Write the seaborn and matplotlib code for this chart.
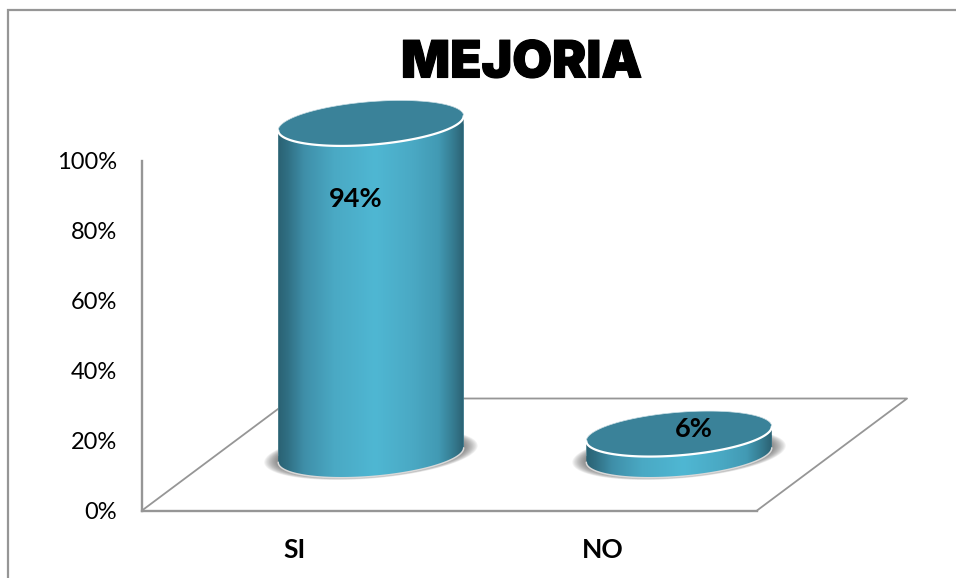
import numpy as np
import matplotlib
matplotlib.use("Agg")
import matplotlib.pyplot as plt
from matplotlib.colors import LinearSegmentedColormap
from matplotlib.patches import PathPatch, Polygon, Rectangle
from matplotlib.path import Path
from matplotlib.ticker import PercentFormatter
from matplotlib.transforms import IdentityTransform
import matplotlib.patheffects as pe
import seaborn as sns

CATEGORIES = ["SI", "NO"]
VALUES = [94, 6]
VALUE_LABELS = ["94%", "6%"]
Y_TICKS = [0, 20, 40, 60, 80, 100]

W, H = 956, 578
GRID = "#969696"
CAP = "#3a8299"

sns.set_theme(style="white")
plt.rcParams["font.family"] = ["Lato", "DejaVu Sans"]

fig = plt.figure(figsize=(W / 100, H / 100), dpi=100, facecolor="white")

# outer chart frame
fig.add_artist(Rectangle((8 / W, -0.05), 1.05, (H - 10) / H + 0.05, transform=fig.transFigure,
                         fill=False, edgecolor=GRID, linewidth=1.6))

XLIM = (-0.743, 1.253)

# value axis and floor
ax = fig.add_axes([142 / W, (H - 510.5) / H, 615 / W, 350 / H], facecolor="none")
ax.set_xlim(*XLIM)
ax.set_ylim(0, 100)
ax.set_yticks(Y_TICKS)
ax.yaxis.set_major_formatter(PercentFormatter(100, decimals=0))
ax.tick_params(axis="y", length=0, pad=18, labelsize=17, labelcolor="black")
ax.set_xticks([i - 0.247 for i in range(len(CATEGORIES))], CATEGORIES)
ax.tick_params(axis="x", length=0, pad=20)
for lab in ax.get_xticklabels():
    lab.set_fontsize(19)
    lab.set_fontweight("bold")
    lab.set_color("black")
sns.despine(ax=ax)
for s in ("left", "bottom"):
    ax.spines[s].set_color(GRID)
    ax.spines[s].set_linewidth(1.7)
ax.plot([1, 1.244, 0.244, 0], [0, 0.32, 0.32, 0], transform=ax.transAxes,
        color=GRID, lw=1.3, clip_on=False)

# cylinders
axb = fig.add_axes([142 / W, (H - 455) / H, 615 / W, 353 / H], facecolor="none")
sns.barplot(x=CATEGORIES, y=VALUES, ax=axb, width=0.604, color="#4badc8", saturation=1)
axb.set_xlim(*XLIM)
axb.set_ylim(0, 100)
axb.axis("off")

cmap = LinearSegmentedColormap.from_list("cyl", [
    (0.00, "#2a6273"), (0.05, "#306f83"), (0.14, "#3f8fa9"), (0.30, "#4aa9c4"),
    (0.52, "#4fb7d3"), (0.72, "#4aa9c4"), (0.86, "#429ab4"), (0.94, "#357b90"), (1.00, "#2b5f70"),
])
grad = np.linspace(0, 1, 256)[None, :]

PHI = np.radians(4.7)
B = 21.5


def arc(cx, cy, a, b, t):
    return np.column_stack([
        cx + a * np.cos(t) * np.cos(PHI) - b * np.sin(t) * np.sin(PHI),
        cy + a * np.cos(t) * np.sin(PHI) + b * np.sin(t) * np.cos(PHI),
    ])


ident = IdentityTransform()
tr = np.arctan2(-B * np.sin(PHI), 93 * np.cos(PHI))
lower = np.linspace(tr - np.pi, tr, 80)
upper = np.linspace(tr, tr + np.pi, 80)
whole = np.linspace(0, 2 * np.pi, 160)

for i, (bar, val) in enumerate(zip(axb.patches, VALUES)):
    x0, w = bar.get_x(), bar.get_width()
    cx, base = axb.transData.transform((x0 + w / 2, 0))
    _, top = axb.transData.transform((x0, val))
    a = (axb.transData.transform((x0 + w, 0))[0] - axb.transData.transform((x0, 0))[0]) / 2

    # soft shadow on the floor
    for t in np.linspace(1, 0, 14):
        axb.add_patch(Polygon(arc(cx, base + 1, a + 14 * t, B + 3 * t, whole), closed=True,
                              transform=ident, facecolor="#555555", alpha=0.075,
                              edgecolor="none", zorder=1, clip_on=False))

    # body: lower arc of the base, upper arc of the top
    pts = np.vstack([arc(cx, base, a, B, lower), arc(cx, top, a, B, upper)])
    body = Path(np.vstack([pts, pts[0]]), closed=True)
    clip = PathPatch(body, transform=ident, facecolor="none", edgecolor="none")
    axb.add_patch(clip)
    clip.set_clip_on(False)
    bar.set_zorder(2)
    bar.set_clip_box(fig.bbox)
    bar.set_clip_path(clip)
    im = axb.imshow(grad, cmap=cmap, aspect="auto", vmin=0, vmax=1,
                    extent=(x0, x0 + w, -12, val + 10), zorder=3)
    im.set_clip_box(fig.bbox)
    im.set_clip_path(clip)

    # light rim around the foot
    axb.add_line(plt.Line2D(*arc(cx, base, a, B, lower).T, transform=ident, color="#d9d9d9",
                            lw=1.1, zorder=4, clip_on=False))
    # top cap
    axb.add_patch(Polygon(arc(cx, top, a, B, whole), closed=True, transform=ident,
                          facecolor=CAP, edgecolor="none", zorder=5, clip_on=False))
    axb.add_line(plt.Line2D(*arc(cx, top, a, B, lower).T, transform=ident, color="white",
                            lw=1.6, zorder=6, clip_on=False))
    axb.add_line(plt.Line2D(*arc(cx, top, a, B, upper).T, transform=ident, color="#dfeaee",
                            lw=0.5, zorder=6, clip_on=False))

axb.set_xlim(*XLIM)
axb.set_ylim(0, 100)

# value labels
LABEL_SHIFT_PX = [(-15, -76), (15, 5)]
for i, (val, txt) in enumerate(zip(VALUES, VALUE_LABELS)):
    dx, dy = LABEL_SHIFT_PX[i]
    axb.annotate(txt, (i, val), xytext=(dx * 0.72, dy * 0.72), textcoords="offset points",
                 ha="center", va="center", fontsize=19.5, fontweight="bold", color="black", zorder=8)

# title
fig.text(521.5 / W, (H - 64) / H, "MEJORIA", ha="center", va="center", color="black",
         family=["Inter", "Liberation Sans", "DejaVu Sans"], fontweight=900, fontsize=37,
         path_effects=[pe.withStroke(linewidth=0.8, foreground="black")])

fig.savefig("out.png", dpi=100, facecolor="white")
